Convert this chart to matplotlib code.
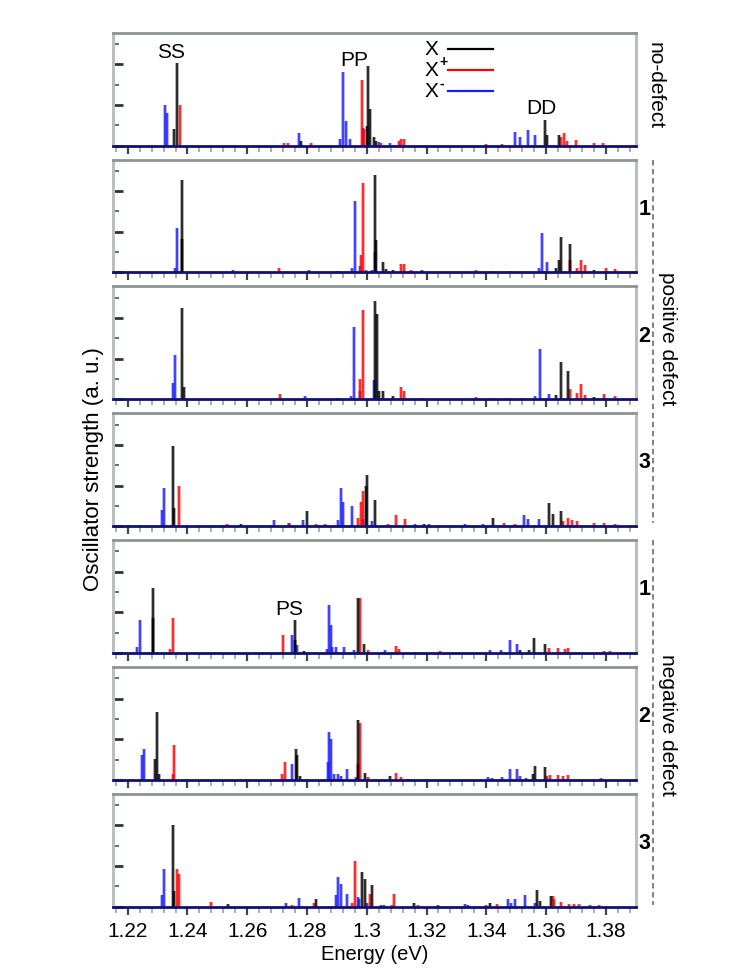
import matplotlib
matplotlib.use("Agg")
import matplotlib.pyplot as plt
from matplotlib.lines import Line2D
from matplotlib.ticker import MultipleLocator

plt.rcParams["font.family"] = ["Liberation Sans", "DejaVu Sans"]

# stick spectra: (energy eV, oscillator strength) for X, X+ and X- in each panel
nodef_X = [(1.2356, 0.4), (1.2364, 2.03), (1.2780, 0.1), (1.3002, 0.47), (1.3005, 1.96),
           (1.3010, 0.9), (1.3023, 0.2), (1.3030, 0.1), (1.3595, 0.64), (1.3604, 0.25),
           (1.3643, 0.27)]
nodef_Xp = [(1.2376, 1.0), (1.2723, 0.05), (1.2735, 0.05), (1.2813, 0.05), (1.2983, 1.62),
            (1.2990, 0.4), (1.3047, 0.05), (1.3107, 0.1), (1.3113, 0.17), (1.3125, 0.15),
            (1.3400, 0.03), (1.3454, 0.03), (1.3651, 0.2), (1.3660, 0.32), (1.3669, 0.1),
            (1.3699, 0.14), (1.3759, 0.05), (1.3789, 0.05)]
nodef_Xm = [(1.2326, 1.0), (1.2332, 0.8), (1.2772, 0.32), (1.2909, 0.15), (1.2921, 1.8),
            (1.2930, 0.6), (1.2945, 0.15), (1.2988, 0.42), (1.3041, 0.08), (1.3077, 0.05),
            (1.3496, 0.33), (1.3514, 0.2), (1.3538, 0.39), (1.3562, 0.27)]

pos1_X = [(1.2380, 0.83), (1.2382, 2.27), (1.2903, 0.03), (1.3029, 2.39), (1.3031, 0.8),
          (1.3053, 0.25), (1.3065, 0.08), (1.3089, 0.05), (1.3634, 0.1), (1.3643, 0.3),
          (1.3651, 0.86), (1.3679, 0.69), (1.3759, 0.05)]
pos1_Xp = [(1.2705, 0.1), (1.2981, 0.42), (1.2988, 2.2), (1.2999, 0.05), (1.3113, 0.2),
           (1.3125, 0.2), (1.3149, 0.05), (1.3364, 0.07), (1.3424, 0.04), (1.3478, 0.04),
           (1.3592, 0.03), (1.3681, 0.3), (1.3705, 0.1), (1.3717, 0.31), (1.3729, 0.17),
           (1.3801, 0.1), (1.3831, 0.08)]
pos1_Xm = [(1.2358, 0.1), (1.2366, 1.1), (1.2552, 0.05), (1.2807, 0.05), (1.2951, 0.1),
           (1.2959, 1.75), (1.2978, 0.15), (1.3017, 0.05), (1.3027, 0.5), (1.3184, 0.05),
           (1.3514, 0.04), (1.3577, 0.1), (1.3586, 0.98), (1.3604, 0.25)]

pos2_X = [(1.2380, 2.24), (1.2388, 0.3), (1.2903, 0.03), (1.3026, 2.41), (1.3035, 2.1),
          (1.3041, 0.2), (1.3053, 0.2), (1.3089, 0.08), (1.3634, 0.1), (1.3649, 0.92),
          (1.3675, 0.7), (1.3759, 0.05)]
pos2_Xp = [(1.2708, 0.12), (1.2978, 0.5), (1.2987, 2.2), (1.3113, 0.29), (1.3125, 0.2),
           (1.3364, 0.06), (1.3424, 0.04), (1.3478, 0.04), (1.3679, 0.25), (1.3705, 0.15),
           (1.3717, 0.38), (1.3729, 0.1), (1.3795, 0.12), (1.3831, 0.08)]
pos2_Xm = [(1.2352, 0.4), (1.2358, 1.1), (1.2792, 0.08), (1.2947, 0.08), (1.2957, 1.79),
           (1.2978, 0.2), (1.3025, 0.48), (1.3184, 0.03), (1.3520, 0.04), (1.3562, 0.08),
           (1.3580, 1.24), (1.3610, 0.13)]

pos3_X = [(1.2352, 1.97), (1.2354, 0.44), (1.2580, 0.05), (1.2799, 0.38), (1.2999, 1.0),
          (1.3002, 1.25), (1.3026, 0.65), (1.3190, 0.05), (1.3424, 0.19), (1.3610, 0.57),
          (1.3622, 0.3), (1.3651, 0.36)]
pos3_Xp = [(1.2370, 0.98), (1.2532, 0.06), (1.2741, 0.07), (1.2831, 0.06), (1.2861, 0.06),
           (1.2969, 0.2), (1.2981, 0.6), (1.2987, 0.86), (1.3071, 0.06), (1.3098, 0.27),
           (1.3127, 0.17), (1.3460, 0.07), (1.3496, 0.05), (1.3657, 0.12), (1.3675, 0.19),
           (1.3687, 0.15), (1.3705, 0.12), (1.3759, 0.07), (1.3795, 0.07), (1.3831, 0.05)]
pos3_Xm = [(1.2313, 0.4), (1.2320, 0.94), (1.2690, 0.15), (1.2741, 0.07), (1.2786, 0.15),
           (1.2903, 0.15), (1.2915, 0.94), (1.2921, 0.6), (1.2951, 0.5), (1.2987, 0.17),
           (1.3017, 0.12), (1.3160, 0.05), (1.3208, 0.05), (1.3328, 0.05), (1.3388, 0.04),
           (1.3526, 0.27), (1.3538, 0.17), (1.3577, 0.17)]

neg1_X = [(1.2284, 1.6), (1.2286, 0.86), (1.2759, 0.8), (1.2761, 0.32), (1.2789, 0.05),
          (1.2969, 1.36), (1.2990, 0.23), (1.3514, 0.08), (1.3544, 0.08), (1.3559, 0.36),
          (1.3595, 0.23)]
neg1_Xp = [(1.2343, 0.1), (1.2350, 0.86), (1.2721, 0.44), (1.2978, 1.36), (1.3005, 0.08),
           (1.3098, 0.17), (1.3107, 0.1), (1.3160, 0.03), (1.3244, 0.04), (1.3610, 0.12),
           (1.3640, 0.12), (1.3663, 0.1), (1.3675, 0.12), (1.3795, 0.05), (1.3813, 0.05)]
neg1_Xm = [(1.2232, 0.15), (1.2241, 0.8), (1.2750, 0.44), (1.2768, 0.2), (1.2867, 0.1),
           (1.2873, 1.17), (1.2879, 0.7), (1.2885, 0.15), (1.2897, 0.15), (1.2923, 0.15),
           (1.2957, 0.07), (1.3062, 0.07), (1.3412, 0.07), (1.3448, 0.07), (1.3478, 0.32),
           (1.3502, 0.23)]

neg2_X = [(1.2292, 0.52), (1.2298, 1.68), (1.2304, 0.15), (1.2762, 0.75), (1.2768, 0.6),
          (1.2775, 0.1), (1.2969, 1.48), (1.2993, 0.18), (1.3077, 0.1), (1.3137, 0.03),
          (1.3556, 0.15), (1.3562, 0.33), (1.3598, 0.32)]
neg2_Xp = [(1.2350, 0.15), (1.2356, 0.87), (1.2717, 0.15), (1.2725, 0.44), (1.2971, 0.4),
           (1.2978, 1.4), (1.3005, 0.07), (1.3098, 0.18), (1.3113, 0.08), (1.3604, 0.1),
           (1.3613, 0.13), (1.3640, 0.13), (1.3657, 0.1), (1.3675, 0.13), (1.3783, 0.05)]
neg2_Xm = [(1.2248, 0.6), (1.2254, 0.77), (1.2751, 0.39), (1.2871, 0.45), (1.2873, 1.18),
           (1.2879, 1.0), (1.2891, 0.15), (1.2903, 0.15), (1.2915, 0.1), (1.2933, 0.27),
           (1.2963, 0.07), (1.3406, 0.08), (1.3418, 0.05), (1.3454, 0.07), (1.3478, 0.27),
           (1.3502, 0.27), (1.3514, 0.1), (1.3532, 0.05)]

neg3_X = [(1.2352, 2.02), (1.2354, 0.38), (1.2535, 0.07), (1.2831, 0.19), (1.2984, 0.85),
          (1.2995, 0.67), (1.3017, 0.54), (1.3158, 0.1), (1.3412, 0.1), (1.3570, 0.4),
          (1.3580, 0.15), (1.3618, 0.27)]
neg3_Xp = [(1.2364, 0.93), (1.2372, 0.8), (1.2478, 0.12), (1.2750, 0.04), (1.2823, 0.08),
           (1.2951, 0.1), (1.2960, 1.12), (1.3011, 0.32), (1.3083, 0.05), (1.3091, 0.32),
           (1.3172, 0.04), (1.3400, 0.04), (1.3436, 0.07), (1.3622, 0.27), (1.3628, 0.2),
           (1.3649, 0.12), (1.3678, 0.07), (1.3693, 0.06), (1.3711, 0.06), (1.3747, 0.05),
           (1.3777, 0.05)]
neg3_Xm = [(1.2313, 0.3), (1.2320, 0.93), (1.2729, 0.1), (1.2774, 0.21), (1.2897, 0.3),
           (1.2905, 0.73), (1.2913, 0.57), (1.2933, 0.32), (1.2969, 0.25), (1.2975, 0.2),
           (1.3002, 0.1), (1.3047, 0.05), (1.3059, 0.05), (1.3238, 0.03), (1.3328, 0.07),
           (1.3340, 0.04), (1.3472, 0.18), (1.3484, 0.1), (1.3496, 0.18), (1.3529, 0.29),
           (1.3562, 0.08)]

panels = [
    (nodef_X, nodef_Xp, nodef_Xm),
    (pos1_X, pos1_Xp, pos1_Xm),
    (pos2_X, pos2_Xp, pos2_Xm),
    (pos3_X, pos3_Xp, pos3_Xm),
    (neg1_X, neg1_Xp, neg1_Xm),
    (neg2_X, neg2_Xp, neg2_Xm),
    (neg3_X, neg3_Xp, neg3_Xm),
]
panel_numbers = ["", "1", "2", "3", "1", "2", "3"]
charges = ["", "+", "-"]

col_X, col_Xp, col_Xm = "#000000", "#ff0000", "#1a1aff"
frame_col = "#b8c0c0"

fig, axes = plt.subplots(7, 1, figsize=(7.47, 9.72), dpi=100, sharex=True)
fig.subplots_adjust(left=0.151, right=0.851, top=0.9664, bottom=0.0672, hspace=0.124)


def sticks(ax, data, color):
    xs = [d[0] for d in data]
    ys = [d[1] for d in data]
    ax.vlines(xs, 0, ys, colors=color, lw=2.7, alpha=0.35)
    ax.vlines(xs, 0, ys, colors=color, lw=1.1, alpha=0.95)


for ax, (dX, dXp, dXm), num in zip(axes, panels, panel_numbers):
    sticks(ax, dXm, col_Xm)
    sticks(ax, dXp, col_Xp)
    sticks(ax, dX, col_X)

    ax.set_xlim(1.215, 1.39)
    ax.set_ylim(0, 2.78)
    ax.xaxis.set_major_locator(MultipleLocator(0.02))
    ax.xaxis.set_minor_locator(MultipleLocator(0.004))
    ax.yaxis.set_major_locator(MultipleLocator(1.0))
    ax.yaxis.set_minor_locator(MultipleLocator(0.5))
    ax.tick_params(axis="y", which="major", direction="in", length=7, width=2, color="#333333",
                   labelleft=False)
    ax.tick_params(axis="y", which="minor", direction="in", length=4.5, width=1.2, color="#555555")
    ax.tick_params(axis="x", which="major", direction="out", length=6, width=1.6, color="#444444")
    ax.tick_params(axis="x", which="minor", direction="out", length=4, width=1.3, color="#a0a8a8")

    for s in ["left", "right"]:
        ax.spines[s].set_color(frame_col)
        ax.spines[s].set_linewidth(2.2)
    ax.spines["top"].set_color("#8c9494")
    ax.spines["top"].set_linewidth(2.0)
    ax.spines["bottom"].set_color("#101070")
    ax.spines["bottom"].set_linewidth(2.0)

    if num:
        ax.text(1.017, 0.56, num, transform=ax.transAxes, ha="center", va="center",
                fontsize=15.5, fontweight="bold")

axes[-1].tick_params(axis="x", labelsize=15, pad=5)
axes[-1].set_xticks([1.22, 1.24, 1.26, 1.28, 1.30, 1.32, 1.34, 1.36, 1.38])
axes[-1].set_xticklabels(["1.22", "1.24", "1.26", "1.28", "1.3", "1.32", "1.34", "1.36", "1.38"])
axes[-1].set_xlabel("Energy (eV)", fontsize=14.5, labelpad=3)

# peak labels
axes[0].text(1.2346, 2.30, "SS", ha="center", va="center", fontsize=15)
axes[0].text(1.2957, 2.10, "PP", ha="center", va="center", fontsize=15)
axes[0].text(1.3586, 0.92, "DD", ha="center", va="center", fontsize=15)
axes[4].text(1.2741, 1.06, "PS", ha="center", va="center", fontsize=15)

# legend: label first, then line
for q, col, yy in zip(charges, [col_X, col_Xp, col_Xm], [0.855, 0.668, 0.481]):
    axes[0].text(0.597, yy, "X", transform=axes[0].transAxes, ha="left", va="center",
                 fontsize=15)
    if q:
        axes[0].text(0.625, yy + 0.07, q, transform=axes[0].transAxes, ha="left",
                     va="center", fontsize=10, fontweight="bold")
    axes[0].plot([0.642, 0.728], [yy, yy], transform=axes[0].transAxes, color=col, lw=1.6)

fig.text(0.1245, 0.517, "Oscillator strength (a. u.)", rotation=90, ha="center",
         va="center", fontsize=16)

# right-hand group labels
fig.text(0.877, 0.9115, "no-defect", rotation=-90, ha="center", va="center", fontsize=15)
fig.text(0.894, 0.652, "positive defect", rotation=-90, ha="center", va="center", fontsize=15)
fig.text(0.894, 0.254, "negative defect", rotation=-90, ha="center", va="center", fontsize=15)
fig.add_artist(Line2D([0.874, 0.874], [1 - 160 / 972, 1 - 523 / 972], transform=fig.transFigure,
                      color="#777777", lw=1.3, ls=(0, (3, 2))))
fig.add_artist(Line2D([0.874, 0.874], [1 - 540 / 972, 1 - 905 / 972], transform=fig.transFigure,
                      color="#777777", lw=1.3, ls=(0, (3, 2))))

fig.savefig("out.png", dpi=100)
